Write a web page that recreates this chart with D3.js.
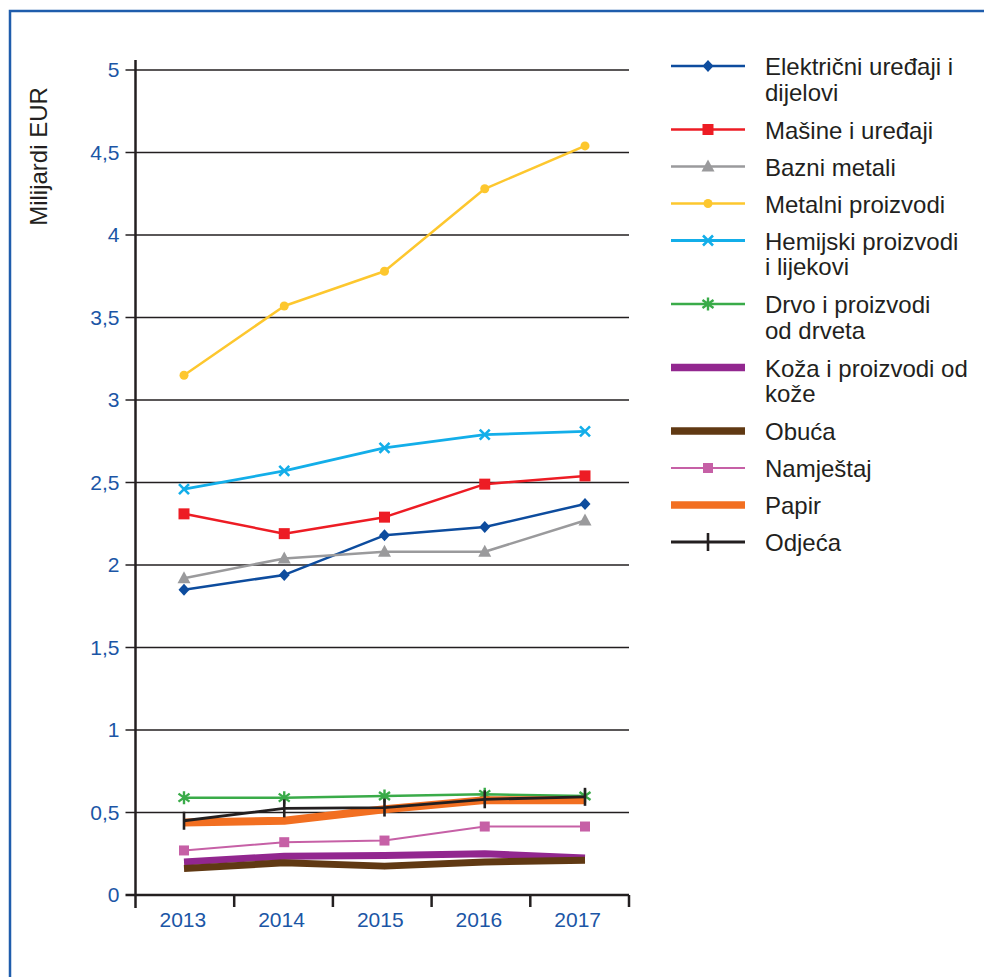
<!DOCTYPE html>
<html>
<head>
<meta charset="utf-8">
<script src="https://cdn.jsdelivr.net/npm/d3@7/dist/d3.min.js"></script>
<style>
  html, body { margin: 0; padding: 0; background: #fff; }
  svg { display: block; font-family: "Liberation Sans", Arial, Helvetica, sans-serif; }
</style>
</head>
<body>
<svg id="chart" width="984" height="977"></svg>
<script>
// Izvoz po grupama proizvoda, milijardi EUR
const years = ["2013", "2014", "2015", "2016", "2017"];
const yTicks = [0, 0.5, 1, 1.5, 2, 2.5, 3, 3.5, 4, 4.5, 5];

const elektricni = [1.85, 1.94, 2.18, 2.23, 2.37];
const masine     = [2.31, 2.19, 2.29, 2.49, 2.54];
const bazni      = [1.92, 2.04, 2.08, 2.08, 2.27];
const metalni    = [3.15, 3.57, 3.78, 4.28, 4.54];
const hemijski   = [2.46, 2.57, 2.71, 2.79, 2.81];
const drvo       = [0.59, 0.59, 0.60, 0.61, 0.60];
const koza       = [0.20, 0.235, 0.24, 0.25, 0.225];
const obuca      = [0.16, 0.195, 0.175, 0.20, 0.21];
const namjestaj  = [0.27, 0.32, 0.33, 0.415, 0.415];
const papir      = [0.44, 0.45, 0.52, 0.575, 0.575];
const odjeca     = [0.45, 0.525, 0.53, 0.58, 0.595];

const seriesNames = [
  ["Električni uređaji i", "dijelovi"],
  ["Mašine i uređaji"],
  ["Bazni metali"],
  ["Metalni proizvodi"],
  ["Hemijski proizvodi", "i lijekovi"],
  ["Drvo i proizvodi", "od drveta"],
  ["Koža i proizvodi od", "kože"],
  ["Obuća"],
  ["Namještaj"],
  ["Papir"],
  ["Odjeća"]
];
const seriesValues = [elektricni, masine, bazni, metalni, hemijski, drvo, koza, obuca, namjestaj, papir, odjeca];
const seriesColors = ["#0d4c9e", "#ed1c24", "#9a9a9c", "#fdc72e", "#13aee9", "#3aab49", "#92278f", "#603913", "#c660a6", "#f26f21", "#231f20"];
const seriesWidths = [2.5, 2.5, 2.5, 2.5, 2.8, 2.5, 7, 7, 2, 8, 2.8];
const seriesMarkers = ["diamond", "square", "triangle", "circle", "x", "asterisk", null, null, "squareSmall", null, "bar"];

const series = seriesNames.map((name, i) => ({
  name, values: seriesValues[i], color: seriesColors[i],
  width: seriesWidths[i], marker: seriesMarkers[i]
}));

const svg = d3.select("#chart");
const ink = "#231f20";
const tickBlue = "#1b56a6";

// outer frame (top and left rules)
svg.append("path")
  .attr("d", "M10,977 L10,11 L984,11")
  .attr("fill", "none").attr("stroke", "#1f5dac").attr("stroke-width", 2.5);

const plot = { left: 135.5, right: 629, top: 70, bottom: 895 };

const y = d3.scaleLinear().domain([0, 5]).range([plot.bottom, plot.top]);
const xBand = d3.scaleBand().domain(years).range([plot.left, plot.right]);
const xPoint = d3.scalePoint().domain(years).range([184, 585]);

// horizontal gridlines
svg.append("g").selectAll("line")
  .data(yTicks.filter(d => d > 0))
  .join("line")
  .attr("x1", plot.left - 10).attr("x2", plot.right)
  .attr("y1", d => y(d)).attr("y2", d => y(d))
  .attr("stroke", ink).attr("stroke-width", 1.3);

// y axis labels
const yAxis = d3.axisLeft(y).tickValues(yTicks).tickSize(0).tickPadding(16)
  .tickFormat(d => String(d).replace(".", ","));
const gy = svg.append("g").attr("transform", `translate(${plot.left},0)`).call(yAxis);
gy.select(".domain").remove();
gy.selectAll("text").attr("fill", tickBlue).style("font-size", "21px")
  .style("font-family", '"Liberation Sans", Arial, sans-serif');

// x axis with ticks on category boundaries
const boundaries = years.map(d => xBand(d)).concat([xBand.range()[1]]);
svg.append("line")
  .attr("x1", plot.left - 10).attr("x2", plot.right)
  .attr("y1", plot.bottom).attr("y2", plot.bottom)
  .attr("stroke", ink).attr("stroke-width", 2.5);
svg.append("g").selectAll("line")
  .data(boundaries.slice(1))
  .join("line")
  .attr("x1", d => d).attr("x2", d => d)
  .attr("y1", plot.bottom).attr("y2", plot.bottom + 12)
  .attr("stroke", ink).attr("stroke-width", 2.5);
svg.append("g").selectAll("text")
  .data(years)
  .join("text")
  .attr("x", d => xBand(d) + xBand.bandwidth() / 2 - 2)
  .attr("y", plot.bottom + 32)
  .attr("text-anchor", "middle")
  .attr("fill", tickBlue).style("font-size", "21px")
  .text(d => d);

// y axis rule
svg.append("line")
  .attr("x1", plot.left).attr("x2", plot.left)
  .attr("y1", 60).attr("y2", plot.bottom + 13)
  .attr("stroke", ink).attr("stroke-width", 2.5);

// y axis title
svg.append("text")
  .attr("transform", "translate(47,156.5) rotate(-90)")
  .attr("text-anchor", "middle")
  .attr("fill", ink).style("font-size", "24px")
  .text("Milijardi EUR");

// marker shapes
function drawMarker(g, type, color) {
  switch (type) {
    case "diamond":
      g.append("path").attr("d", "M0,-6 L5.5,0 L0,6 L-5.5,0Z").attr("fill", color); break;
    case "square":
      g.append("rect").attr("x", -5.5).attr("y", -5.5).attr("width", 11).attr("height", 11).attr("fill", color); break;
    case "squareSmall":
      g.append("rect").attr("x", -5).attr("y", -5).attr("width", 10).attr("height", 10).attr("fill", color); break;
    case "triangle":
      g.append("path").attr("d", "M0,-7 L6.5,5 L-6.5,5Z").attr("fill", color); break;
    case "circle":
      g.append("circle").attr("r", 4.5).attr("fill", color); break;
    case "x":
      g.append("path").attr("d", "M-5,-5 L5,5 M-5,5 L5,-5")
        .attr("stroke", color).attr("stroke-width", 2.6).attr("fill", "none"); break;
    case "asterisk":
      g.append("path").attr("d", "M0,-6.5 L0,6.5 M-5.5,-4 L5.5,4 M-5.5,4 L5.5,-4")
        .attr("stroke", color).attr("stroke-width", 2.4).attr("fill", "none"); break;
    case "bar":
      g.append("path").attr("d", "M0,-9 L0,9")
        .attr("stroke", color).attr("stroke-width", 2.6).attr("fill", "none"); break;
  }
}

// series lines and markers
const line = d3.line().x((d, i) => xPoint(years[i])).y(d => y(d));
series.forEach(s => {
  const g = svg.append("g");
  g.append("path")
    .attr("d", line(s.values))
    .attr("fill", "none")
    .attr("stroke", s.color)
    .attr("stroke-width", s.width)
    .attr("stroke-linejoin", "round");
  if (s.marker) {
    s.values.forEach((v, i) => {
      const m = g.append("g").attr("transform", `translate(${xPoint(years[i])},${y(v)})`);
      drawMarker(m, s.marker, s.color);
    });
  }
});

// legend
const legend = svg.append("g");
let ly = 66;
series.forEach(s => {
  const item = legend.append("g").attr("transform", `translate(0,${ly})`);
  item.append("line")
    .attr("x1", 671).attr("x2", 745).attr("y1", 0).attr("y2", 0)
    .attr("stroke", s.color).attr("stroke-width", s.width >= 7 ? 7.5 : s.width);
  if (s.marker) {
    const m = item.append("g").attr("transform", "translate(708,0)");
    drawMarker(m, s.marker, s.color);
  }
  const t = item.append("text").attr("x", 765).attr("y", 9)
    .attr("fill", ink).style("font-size", "24px");
  s.name.forEach((ln, k) => {
    t.append("tspan").attr("x", 765).attr("dy", k === 0 ? 0 : 25.5).text(ln);
  });
  ly += 37 + 26.5 * (s.name.length - 1);
});
</script>
</body>
</html>
